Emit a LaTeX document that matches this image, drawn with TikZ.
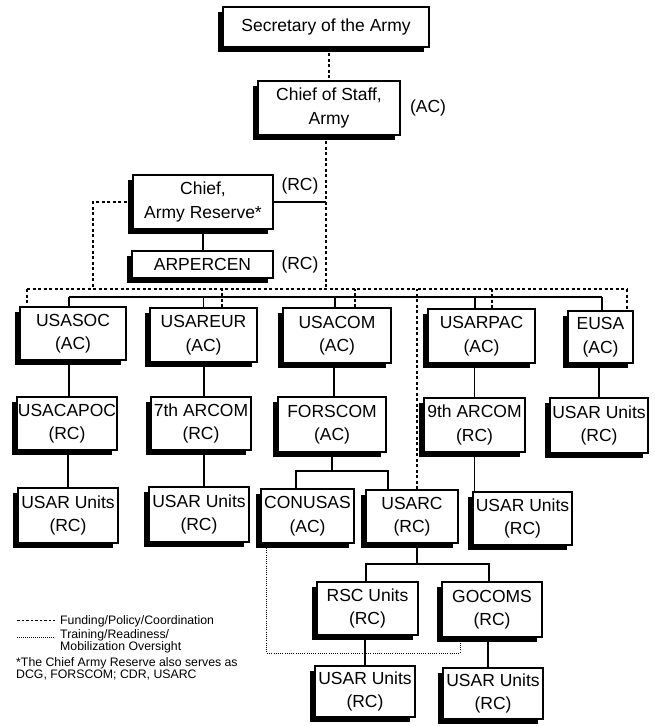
\documentclass[tikz,border=0pt]{standalone}
\usepackage{fontspec}
\setmainfont{Liberation Sans}
\usetikzlibrary{shadows,backgrounds,calc}
\begin{document}
\begin{tikzpicture}[x=1pt,y=-1pt,
  orgbox/.style={draw=black, line width=1.3pt, fill=white, align=center, inner sep=0pt,
     font=\fontsize{17.5}{23.5}\selectfont,
     drop shadow={shadow xshift=-5pt,shadow yshift=-5pt,fill=black,opacity=1}},
  lbl/.style={font=\fontsize{17.5}{23.5}\selectfont, inner sep=0pt},
  cmd/.style={line width=1.1pt},
  fund/.style={line width=1.1pt, dash pattern=on 3pt off 2.5pt},
  train/.style={line width=0.9pt, dash pattern=on 0.9pt off 1.3pt},
  legend/.style={font=\fontsize{12.3}{12.5}\selectfont, inner sep=0pt, align=left}]
\useasboundingbox (0,0) rectangle (655,726);

% top
\node[orgbox,minimum width=206pt,minimum height=40pt] (sec) at (326,27) {Secretary of the Army};
\node[orgbox,minimum width=142pt,minimum height=54pt] (cos) at (329,108) {Chief of Staff,\\Army};
\node[lbl] (cosl) at (428,108) {(AC)};
\node[orgbox,minimum width=140pt,minimum height=54pt] (car) at (203,202) {Chief,\\Army Reserve*};
\node[lbl] (carl) at (300,186) {(RC)};
\node[orgbox,minimum width=141pt,minimum height=27pt] (arp) at (202.5,264.5) {ARPERCEN};
\node[lbl] (arpl) at (300,265) {(RC)};

% row 1
\node[orgbox,minimum width=106pt,minimum height=53pt] (usasoc) at (73,333.5) {USASOC\\(AC)};
\node[orgbox,minimum width=107pt,minimum height=54pt] (usareur) at (203.5,335) {USAREUR\\(AC)};
\node[orgbox,minimum width=108pt,minimum height=55pt] (usacom) at (337,335.5) {USACOM\\(AC)};
\node[orgbox,minimum width=107pt,minimum height=54pt] (usarpac) at (481.5,336) {USARPAC\\(AC)};
\node[orgbox,minimum width=65pt,minimum height=52pt] (eusa) at (600.5,337) {EUSA\\(AC)};

% row 2
\node[orgbox,minimum width=100pt,minimum height=53pt] (usacapoc) at (67,423.5) {USACAPOC\\(RC)};
\node[orgbox,minimum width=100pt,minimum height=53pt] (arcom7) at (201,423.5) {7th ARCOM\\(RC)};
\node[orgbox,minimum width=108pt,minimum height=55pt] (forscom) at (332,424.5) {FORSCOM\\(AC)};
\node[orgbox,minimum width=101pt,minimum height=54pt] (arcom9) at (474.5,425) {9th ARCOM\\(RC)};
\node[orgbox,minimum width=98pt,minimum height=55pt] (usarE) at (599,425.5) {USAR Units\\(RC)};

% row 3
\node[orgbox,minimum width=100pt,minimum height=55pt] (usar1) at (68,515.5) {USAR Units\\(RC)};
\node[orgbox,minimum width=100pt,minimum height=55pt] (usar2) at (199,514.5) {USAR Units\\(RC)};
\node[orgbox,minimum width=93pt,minimum height=54pt] (conusas) at (307.5,516) {CONUSAS\\(AC)};
\node[orgbox,minimum width=92pt,minimum height=53pt] (usarc) at (412,516.5) {USARC\\(RC)};
\node[orgbox,minimum width=99pt,minimum height=53pt] (usar3) at (522.5,518.5) {USAR Units\\(RC)};

% row 4
\node[orgbox,minimum width=101pt,minimum height=53pt] (rsc) at (367.5,608.5) {RSC Units\\(RC)};
\node[orgbox,minimum width=100pt,minimum height=55pt] (gocoms) at (492,609.5) {GOCOMS\\(RC)};

% row 5
\node[orgbox,minimum width=100pt,minimum height=51pt] (usar4) at (365,691.5) {USAR Units\\(RC)};
\node[orgbox,minimum width=100pt,minimum height=51pt] (usar5) at (493,693.5) {USAR Units\\(RC)};

% bus coordinates
\coordinate (dL) at (27,289);
\coordinate (dR) at (627,289);
\coordinate (sL) at (69,297);
\coordinate (sR) at (602,297);
\coordinate (fs) at (0,471);
\coordinate (us) at (0,564);
\coordinate (tb) at (0,653);
\coordinate (cosdrop) at ([xshift=-3pt]cos.south);

\begin{scope}[on background layer]
  % top chain
  \draw[fund] (cos.north |- sec.south) -- (cos.north);
  \draw[fund] (cosdrop) -- (cosdrop |- dL);
  \draw[cmd] (car.east) -- (car.east -| cosdrop);
  \draw[cmd] (car.south) -- (car.south |- arp.north);
  \draw[fund] (car.west) -| ([xshift=66pt]dL);

  % dashed bus
  \draw[fund] (dL) -- (dR);
  \draw[fund] (dL) -- (dL |- usasoc.north);
  \draw[fund] ([xshift=18.5pt]usareur.north) -- ([xshift=18.5pt]usareur.north |- dL);
  \draw[fund] ([xshift=18pt]usacom.north) -- ([xshift=18pt]usacom.north |- dL);
  \draw[fund] ([xshift=5pt]usarc.north) -- ([xshift=5pt]usarc.north |- dL);
  \draw[fund] ([xshift=10.5pt]usarpac.north) -- ([xshift=10.5pt]usarpac.north |- dL);
  \draw[fund] (dR) -- (dR |- eusa.north);

  % solid bus
  \draw[cmd] (sL) -- (sR);
  \draw[cmd] (sL) -- (sL |- usasoc.north);
  \draw[cmd] (usareur.north) -- (usareur.north |- sL);
  \draw[cmd] ([xshift=-2pt]usacom.north) -- ([xshift=-2pt]usacom.north |- sL);
  \draw[cmd] ([xshift=-6.5pt]usarpac.north) -- ([xshift=-6.5pt]usarpac.north |- sL);
  \draw[cmd] (sR) -- (sR |- eusa.north);

  % row1 -> row2
  \draw[cmd] ([xshift=2pt]usacapoc.north) -- ([xshift=2pt]usacapoc.north |- usasoc.south);
  \draw[cmd] ([xshift=3pt]arcom7.north) -- ([xshift=3pt]arcom7.north |- usareur.south);
  \draw[cmd] ([xshift=2pt]forscom.north) -- ([xshift=2pt]forscom.north |- usacom.south);
  \draw[cmd] (arcom9.north) -- (arcom9.north |- usarpac.south);
  \draw[cmd] (usarE.north) -- (usarE.north |- eusa.south);

  % row2 -> row3
  \draw[cmd] (usar1.north) -- (usar1.north |- usacapoc.south);
  \draw[cmd] ([xshift=5pt]usar2.north) -- ([xshift=5pt]usar2.north |- arcom7.south);
  \draw[cmd] (arcom9.south) -- (arcom9.south |- usar3.north);

  % FORSCOM split
  \draw[cmd] (forscom.south) -- (forscom.south |- fs);
  \draw[cmd] ([xshift=-11.5pt]conusas.north) -- ([xshift=-11.5pt]conusas.north |- fs)
     -- ([xshift=-24pt]usarc.north |- fs) -- ([xshift=-24pt]usarc.north);

  % USARC split
  \draw[cmd] ([xshift=5pt]usarc.south) -- ([xshift=5pt]usarc.south |- us);
  \draw[cmd] ([xshift=-1.5pt]rsc.north) -- ([xshift=-1.5pt]rsc.north |- us)
     -- ([xshift=-3pt]gocoms.north |- us) -- ([xshift=-3pt]gocoms.north);

  % row4 -> row5
  \draw[cmd] (usar4.north) -- (usar4.north |- rsc.south);
  \draw[cmd] ([xshift=-5pt]usar5.north) -- ([xshift=-5pt]usar5.north |- gocoms.south);

  % training oversight
  \draw[train] ([xshift=6pt]conusas.south west) -- ([xshift=6pt]conusas.south west |- tb)
     -- ([xshift=-32pt]gocoms.south |- tb) -- ([xshift=-32pt]gocoms.south);
\end{scope}

% legend
\coordinate (l1a) at (17,620);
\coordinate (l1b) at (55,620);
\coordinate (l2a) at (17,637);
\coordinate (l2b) at (55,637);
\draw[line width=0.8pt, dash pattern=on 2.5pt off 2pt] (l1a) -- (l1b);
\draw[line width=0.8pt, dash pattern=on 0.8pt off 1.2pt] (l2a) -- (l2b);
\node[legend, anchor=base west] (leg1) at (60,624) {Funding/Policy/Coordination};
\node[legend, anchor=north west] (leg2) at (60,629) {Training/Readiness/\\Mobilization Oversight};
\node[legend, anchor=north west] (note) at (16,657) {*The Chief Army Reserve also serves as\\DCG, FORSCOM; CDR, USARC};
\end{tikzpicture}
\end{document}
